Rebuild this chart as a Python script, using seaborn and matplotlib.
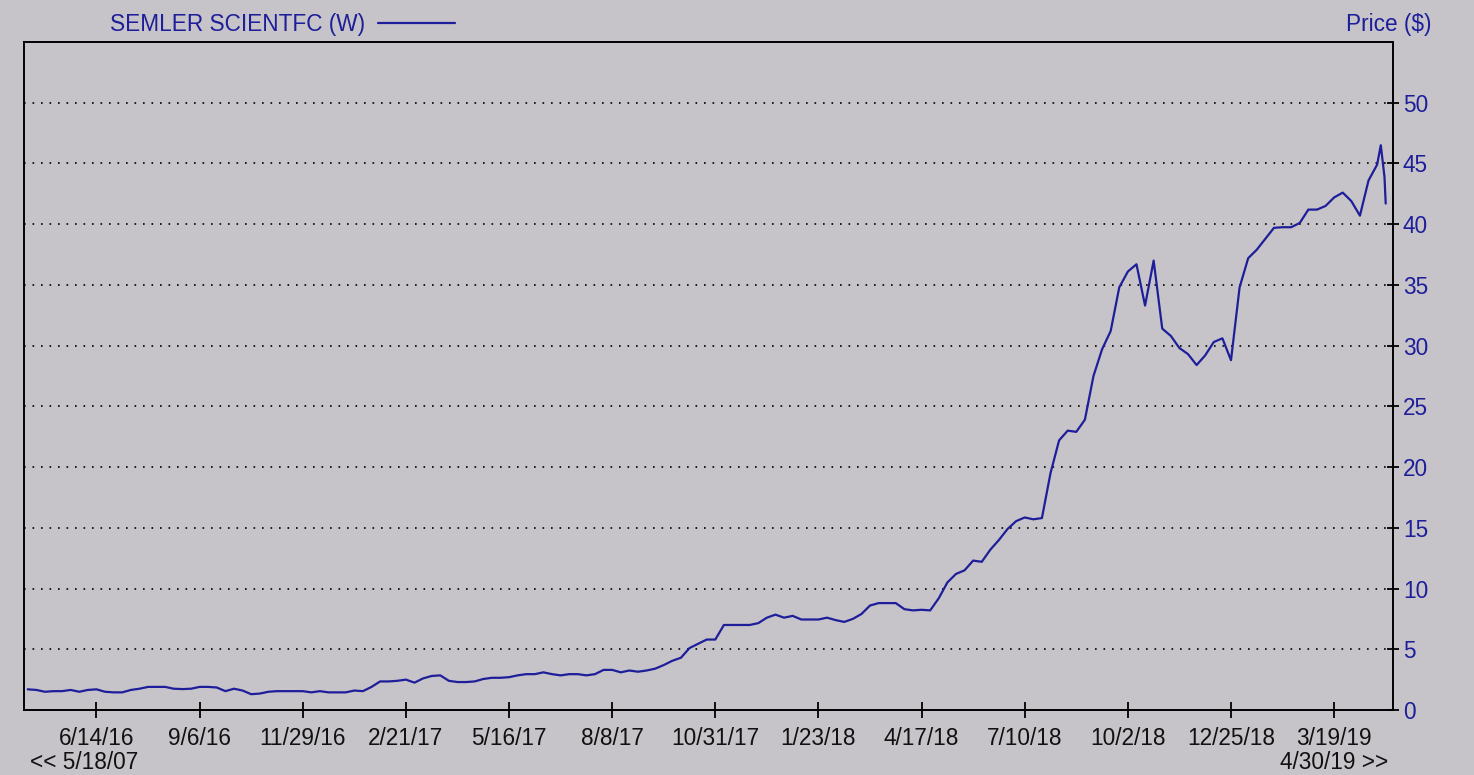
import numpy as np
import pandas as pd
import matplotlib
matplotlib.use("Agg")
import matplotlib.pyplot as plt
import seaborn as sns

# weekly closes, one per Tuesday, 4/19/16 .. 4/23/19
week_start = "2016-04-19"
weekly_price = [
    1.70, 1.65, 1.50, 1.55, 1.55, 1.65, 1.50, 1.65, 1.70, 1.50,
    1.45, 1.45, 1.65, 1.75, 1.90, 1.90, 1.90, 1.75, 1.72, 1.75,
    1.90, 1.90, 1.85, 1.55, 1.75, 1.60, 1.30, 1.35, 1.50, 1.55,
    1.55, 1.55, 1.55, 1.45, 1.55, 1.45, 1.45, 1.45, 1.60, 1.55,
    1.90, 2.35, 2.35, 2.40, 2.50, 2.25, 2.60, 2.80, 2.85, 2.40,
    2.30, 2.30, 2.35, 2.55, 2.65, 2.65, 2.70, 2.85, 2.95, 2.95,
    3.10, 2.95, 2.85, 2.95, 2.95, 2.85, 2.95, 3.30, 3.30, 3.10,
    3.25, 3.15, 3.25, 3.40, 3.70, 4.05, 4.30, 5.10, 5.45, 5.80,
    5.80, 7.00, 7.00, 7.00, 7.00, 7.15, 7.60, 7.85, 7.60, 7.75,
    7.45, 7.45, 7.45, 7.60, 7.40, 7.25, 7.50, 7.90, 8.60, 8.80,
    8.80, 8.80, 8.30, 8.20, 8.25, 8.20, 9.20, 10.5, 11.2, 11.5,
    12.3, 12.2, 13.2, 14.0, 14.9, 15.55, 15.85, 15.7, 15.8, 19.5,
    22.2, 23.0, 22.9, 23.9, 27.5, 29.7, 31.2, 34.8, 36.1, 36.7,
    33.3, 37.0, 31.4, 30.8, 29.8, 29.3, 28.4, 29.2, 30.3, 30.6,
    28.8, 34.8, 37.2, 37.9, 38.8, 39.7, 39.75, 39.75, 40.1, 41.2,
    41.2, 41.5, 42.2, 42.6, 41.9, 40.7, 43.6, 44.9,
]
# last daily points of the window
tail_dates = ["2019-04-26", "2019-04-29", "2019-04-30"]
tail_price = [46.5, 43.9, 41.7]

series_name = "SEMLER SCIENTFC (W)"
tick_dates = ["2016-06-14", "2016-09-06", "2016-11-29", "2017-02-21",
              "2017-05-16", "2017-08-08", "2017-10-31", "2018-01-23",
              "2018-04-17", "2018-07-10", "2018-10-02", "2018-12-25",
              "2019-03-19"]
tick_labels = ["6/14/16", "9/6/16", "11/29/16", "2/21/17", "5/16/17",
               "8/8/17", "10/31/17", "1/23/18", "4/17/18", "7/10/18",
               "10/2/18", "12/25/18", "3/19/19"]
price_ticks = list(range(0, 55, 5))

bg = "#C6C4C9"
navy = "#1E1E9A"
fs = 16.3

dates = list(pd.date_range(week_start, periods=len(weekly_price), freq="7D"))
dates += list(pd.to_datetime(tail_dates))
df = pd.DataFrame({"date": dates, "price": weekly_price + tail_price})

sns.set_style("white")
plt.rcParams["font.family"] = ["Liberation Sans", "DejaVu Sans"]

fig = plt.figure(figsize=(14.74, 7.75), dpi=100, facecolor=bg)
ax = fig.add_axes([0.0163, 0.0839, 0.9288, 0.8619])
ax.set_facecolor(bg)

sns.lineplot(data=df, x="date", y="price", ax=ax, color=navy, lw=1.6,
             label=series_name)

ax.set_xlim(pd.Timestamp("2016-04-16"), pd.Timestamp("2019-05-06"))
ax.set_ylim(0, 55)
ax.yaxis.tick_right()
ax.set_yticks(price_ticks)
ax.set_xticks(pd.to_datetime(tick_dates))
ax.set_xticklabels(tick_labels)
ax.set_xlabel("")
ax.set_ylabel("")

ax.grid(axis="y", color="black", linestyle=(0, (1, 4.1)), linewidth=1.2)
ax.grid(axis="x", visible=False)
ax.set_axisbelow(True)

for s in ax.spines.values():
    s.set_visible(True)
    s.set_color("black")
    s.set_linewidth(1.4)

ax.tick_params(axis="y", right=True, left=False, direction="inout",
               length=8, width=1.3, color="black", labelcolor=navy,
               labelsize=fs, pad=3)
ax.tick_params(axis="x", bottom=True, direction="inout", length=12,
               width=1.3, color="black", labelcolor="#111111",
               labelsize=fs, pad=6)

leg = ax.legend(loc="center left", bbox_to_anchor=(0.0746, 0.969),
                bbox_transform=fig.transFigure, frameon=False,
                markerfirst=False, handlelength=3.4, handletextpad=0.58,
                borderpad=0, borderaxespad=0, fontsize=fs)
for t in leg.get_texts():
    t.set_color(navy)

fig.text(0.9715, 0.969, "Price ($)", color=navy, fontsize=fs,
         ha="right", va="center")
fig.text(0.0204, 0.0155, "<< 5/18/07", color="#111111", fontsize=fs,
         ha="left", va="center")
fig.text(0.9417, 0.0155, "4/30/19 >>", color="#111111", fontsize=fs,
         ha="right", va="center")

fig.savefig("out.png", dpi=100, facecolor=bg)
